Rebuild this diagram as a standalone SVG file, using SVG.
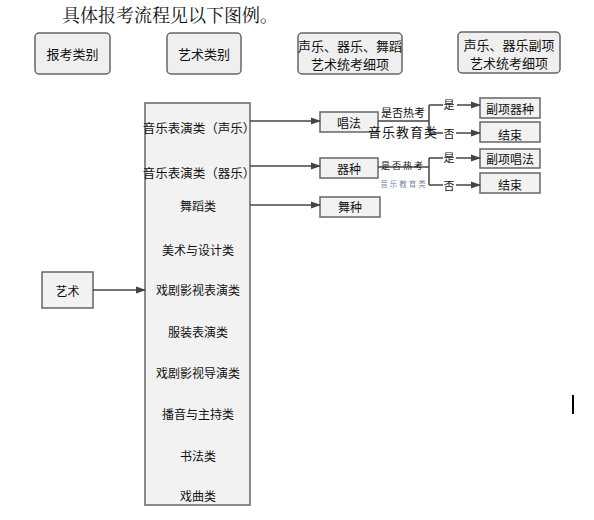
<svg xmlns="http://www.w3.org/2000/svg" width="594" height="520" viewBox="0 0 594 520">
<defs>
<marker id="ah" markerWidth="10" markerHeight="8" refX="9" refY="4" orient="auto" markerUnits="userSpaceOnUse">
<path d="M0,0.5 L10,4 L0,7.5 Z" fill="#444"/>
</marker>
<style>
.t{font-family:"Noto Sans CJK SC","Liberation Sans",sans-serif;fill:#111;text-anchor:middle;dominant-baseline:central}
.hb{fill:#efefef;stroke:#666;stroke-width:1.5}
.b{fill:#f2f2f2;stroke:#666;stroke-width:1.5}
.c{fill:none;stroke:#444;stroke-width:1.5}
.a{marker-end:url(#ah)}
</style>
</defs>
<rect width="594" height="520" fill="#fff"/>
<text x="62" y="14" font-family="Noto Serif CJK SC,Noto Sans CJK SC,serif" font-size="18" fill="#111" dominant-baseline="central">具体报考流程见以下图例。</text>

<g id="h1"><rect class="hb" x="35" y="33" width="75" height="41" rx="4"/><text class="t" x="72.5" y="53.5" font-size="13">报考类别</text></g>
<g id="h2"><rect class="hb" x="167" y="33" width="74" height="41" rx="4"/><text class="t" x="204" y="53.5" font-size="13">艺术类别</text></g>
<g id="h3"><rect class="hb" x="298" y="33" width="104" height="41" rx="4"/><text class="t" x="350" y="45" font-size="13">声乐、器乐、舞蹈</text><text class="t" x="350" y="63" font-size="13">艺术统考细项</text></g>
<g id="h4"><rect class="hb" x="458" y="32" width="102" height="41" rx="4"/><text class="t" x="509" y="44" font-size="13">声乐、器乐副项</text><text class="t" x="509" y="62" font-size="13">艺术统考细项</text></g>

<g id="yishu"><rect class="b" x="42" y="272" width="51" height="36"/><text class="t" x="67.5" y="290" font-size="12">艺术</text></g>

<g id="cats"><rect class="b" x="145" y="103" width="105" height="402"/>
<text class="t" x="199" y="127" font-size="12.5">音乐表演类（声乐）</text>
<text class="t" x="199" y="172" font-size="12.5">音乐表演类（器乐）</text>
<text class="t" x="198" y="205" font-size="12">舞蹈类</text>
<text class="t" x="198" y="249" font-size="12">美术与设计类</text>
<text class="t" x="198" y="289" font-size="12">戏剧影视表演类</text>
<text class="t" x="198" y="331" font-size="12">服装表演类</text>
<text class="t" x="198" y="372" font-size="12">戏剧影视导演类</text>
<text class="t" x="198" y="413" font-size="12">播音与主持类</text>
<text class="t" x="198" y="455" font-size="12">书法类</text>
<text class="t" x="198" y="495" font-size="12">戏曲类</text>
</g>

<g id="changfa"><rect class="b" x="320" y="112" width="58" height="20"/><text class="t" x="349" y="122" font-size="12">唱法</text></g>
<g id="qizhong"><rect class="b" x="320" y="158" width="58" height="20"/><text class="t" x="349" y="168" font-size="12">器种</text></g>
<g id="wuzhong"><rect class="b" x="320" y="197" width="60" height="20"/><text class="t" x="350" y="206" font-size="12">舞种</text></g>

<g id="fxqz"><rect class="b" x="480" y="98" width="60" height="20"/><text class="t" x="510" y="108" font-size="12">副项器种</text></g>
<g id="end1"><rect class="b" x="480" y="122" width="60" height="20"/><text class="t" x="510" y="134" font-size="12">结束</text></g>
<g id="fxcf"><rect class="b" x="480" y="149" width="60" height="19"/><text class="t" x="510" y="158.5" font-size="12">副项唱法</text></g>
<g id="end2"><rect class="b" x="480" y="173" width="60" height="20"/><text class="t" x="510" y="184" font-size="12">结束</text></g>

<g id="connectors">
<path class="c a" d="M93,290 H145"/>
<path class="c a" d="M250,121 H320"/>
<path class="c a" d="M250,166 H320"/>
<path class="c a" d="M250,205 H320"/>
<path class="c" d="M378,121 H429 M429,105 V133 M429,105 H443 M429,133 H443"/>
<path class="c a" d="M457,105 H480"/>
<path class="c a" d="M456,133 H480"/>
<path class="c" d="M378,167 H429 M429,158 V185 M429,158 H443 M429,185 H443"/>
<path class="c a" d="M456,158 H480"/>
<path class="c a" d="M456,185 H480"/>
</g>

<g id="labels">
<text class="t" x="403" y="112" font-size="11">是否热考</text>
<text class="t" x="403" y="131" font-size="13" letter-spacing="1">音乐教育类</text>
<text class="t" x="449" y="104" font-size="11">是</text>
<text class="t" x="449" y="133" font-size="11">否</text>
<text class="t" x="403" y="165" font-size="9" letter-spacing="2" fill="#333">是否热考</text>
<text class="t" x="404" y="183" font-size="7.5" letter-spacing="2" style="fill:#7a86a8">音乐教育类</text>
<text class="t" x="449" y="157" font-size="11">是</text>
<text class="t" x="449" y="185" font-size="11">否</text>
</g>
<line x1="573" y1="395" x2="573" y2="414" stroke="#000" stroke-width="2"/>
</svg>
